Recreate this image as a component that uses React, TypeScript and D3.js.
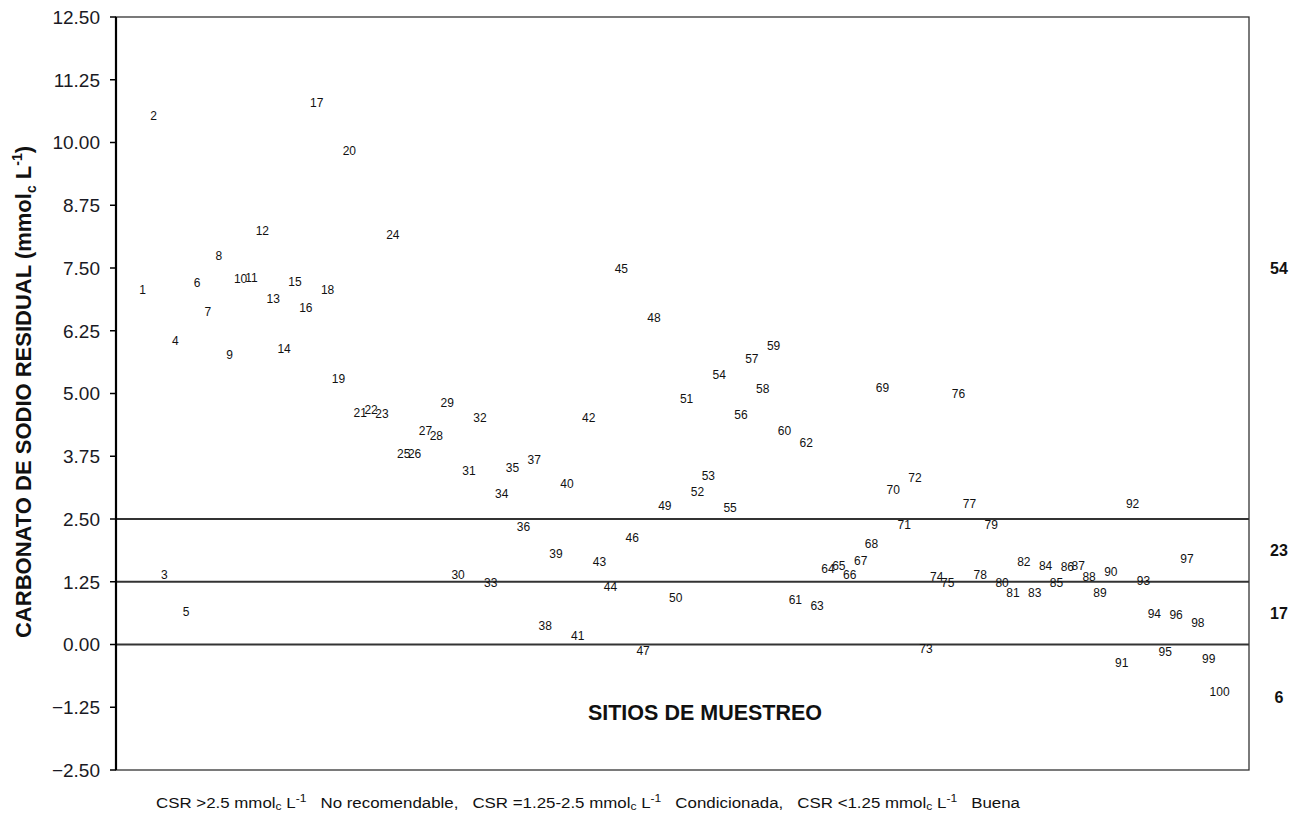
import React from "react";
import * as d3 from "d3";

// Residual sodium carbonate (CSR) per sampling site, sites 1..100
const sites: number[] = d3.range(1, 101);
const csrValues: number[] = [
  7.06, 10.54, 1.385, 6.05, 0.65, 7.2, 6.63, 7.74, 5.77, 7.29,
  7.31, 8.24, 6.88, 5.89, 7.22, 6.71, 10.8, 7.06, 5.3, 9.84,
  4.61, 4.67, 4.59, 8.17, 3.81, 3.81, 4.25, 4.16, 4.81, 1.385,
  3.46, 4.51, 1.24, 3.01, 3.53, 2.35, 3.69, 0.37, 1.8, 3.2,
  0.17, 4.51, 1.64, 1.15, 7.48, 2.12, -0.12, 6.51, 2.76, 0.94,
  4.89, 3.05, 3.36, 5.37, 2.73, 4.57, 5.69, 5.09, 5.95, 4.26,
  0.89, 4.03, 0.77, 1.52, 1.58, 1.385, 1.67, 2.0, 5.12, 3.08,
  2.38, 3.33, -0.08, 1.35, 1.24, 4.99, 2.8, 1.385, 2.38, 1.24,
  1.03, 1.65, 1.03, 1.57, 1.24, 1.55, 1.58, 1.35, 1.03, 1.46,
  -0.36, 2.8, 1.28, 0.62, -0.14, 0.59, 1.7, 0.43, -0.28, -0.94,
];

const yTicks: number[] = [-2.5, -1.25, 0, 1.25, 2.5, 3.75, 5, 6.25, 7.5, 8.75, 10, 11.25, 12.5];
const thresholds: number[] = [2.5, 1.25, 0];
// where each class count is written on the right, in CSR units
const countLabelY: number[] = [7.5, 1.875, 0.625, -1.06];

const W = 1302;
const H = 818;
const plot = { left: 116, right: 1249, top: 17, bottom: 770 };

export default function App() {
  const x = d3.scaleLinear().domain([-1.45, 102.7]).range([plot.left, plot.right]);
  const y = d3.scaleLinear().domain([-2.5, 12.5]).range([plot.bottom, plot.top]);

  const counts = [
    csrValues.filter((v) => v > 2.5).length,
    csrValues.filter((v) => v >= 1.25 && v <= 2.5).length,
    csrValues.filter((v) => v >= 0 && v < 1.25).length,
    csrValues.filter((v) => v < 0).length,
  ];

  const font = "'Liberation Sans', Arial, Helvetica, sans-serif";

  return (
    <svg
      width={W}
      height={H}
      viewBox={`0 0 ${W} ${H}`}
      style={{ position: "absolute", left: 0, top: 0, background: "#fff" }}
      fontFamily={font}
    >
      {/* plot frame */}
      <rect
        x={plot.left}
        y={plot.top}
        width={plot.right - plot.left}
        height={plot.bottom - plot.top}
        fill="none"
        stroke="#333"
        strokeWidth={1.3}
      />
      {/* class boundaries */}
      {thresholds.map((t) => (
        <line key={t} x1={plot.left} x2={plot.right} y1={y(t)} y2={y(t)} stroke="#333" strokeWidth={2} />
      ))}
      {/* y axis */}
      <line x1={plot.left} x2={plot.left} y1={plot.top} y2={plot.bottom} stroke="#000" strokeWidth={2.2} />
      {yTicks.map((t) => (
        <g key={t}>
          <line x1={plot.left - 6} x2={plot.left} y1={y(t)} y2={y(t)} stroke="#000" strokeWidth={1.5} />
          <text x={100} y={y(t)} dy="0.36em" textAnchor="end" fontSize={19} fill="#1a1a24">
            {d3.format(".2f")(t)}
          </text>
        </g>
      ))}
      {/* site labels */}
      {sites.map((s, i) => (
        <text
          key={s}
          x={x(s)}
          y={y(csrValues[i])}
          dy="0.36em"
          textAnchor="middle"
          fontSize={12}
          fill="#111"
        >
          {s}
        </text>
      ))}
      {/* class counts */}
      {counts.map((c, i) => (
        <text
          key={i}
          x={1279}
          y={y(countLabelY[i])}
          dy="0.36em"
          textAnchor="middle"
          fontSize={16}
          fontWeight="bold"
          fill="#111"
        >
          {c}
        </text>
      ))}
      {/* axis titles */}
      <text
        transform={`translate(31, 392) rotate(-90)`}
        textAnchor="middle"
        fontSize={22}
        fontWeight="bold"
        fill="#111"
      >
        CARBONATO DE SODIO RESIDUAL (mmol
        <tspan fontSize={14} dy={5}>c</tspan>
        <tspan dy={-5}> L</tspan>
        <tspan fontSize={14} dy={-9}>-1</tspan>
        <tspan dy={9}>)</tspan>
      </text>
      <text x={705} y={720} textAnchor="middle" fontSize={21.5} fontWeight="bold" fill="#111">
        SITIOS DE MUESTREO
      </text>
      {/* classification legend */}
      <text x={156} y={808} fontSize={14} fill="#111" textLength={864} lengthAdjust="spacingAndGlyphs">
        CSR &gt;2.5 mmol<tspan fontSize={10} dy={2}>c</tspan>
        <tspan dy={-2}> L</tspan>
        <tspan fontSize={10} dy={-6}>-1</tspan>
        <tspan dy={6}>{"\u00a0\u00a0\u00a0No recomendable,\u00a0\u00a0\u00a0CSR =1.25-2.5 mmol"}</tspan>
        <tspan fontSize={10} dy={2}>c</tspan>
        <tspan dy={-2}> L</tspan>
        <tspan fontSize={10} dy={-6}>-1</tspan>
        <tspan dy={6}>{"\u00a0\u00a0\u00a0Condicionada,\u00a0\u00a0\u00a0CSR <1.25 mmol"}</tspan>
        <tspan fontSize={10} dy={2}>c</tspan>
        <tspan dy={-2}> L</tspan>
        <tspan fontSize={10} dy={-6}>-1</tspan>
        <tspan dy={6}>{"\u00a0\u00a0\u00a0Buena"}</tspan>
      </text>
    </svg>
  );
}
